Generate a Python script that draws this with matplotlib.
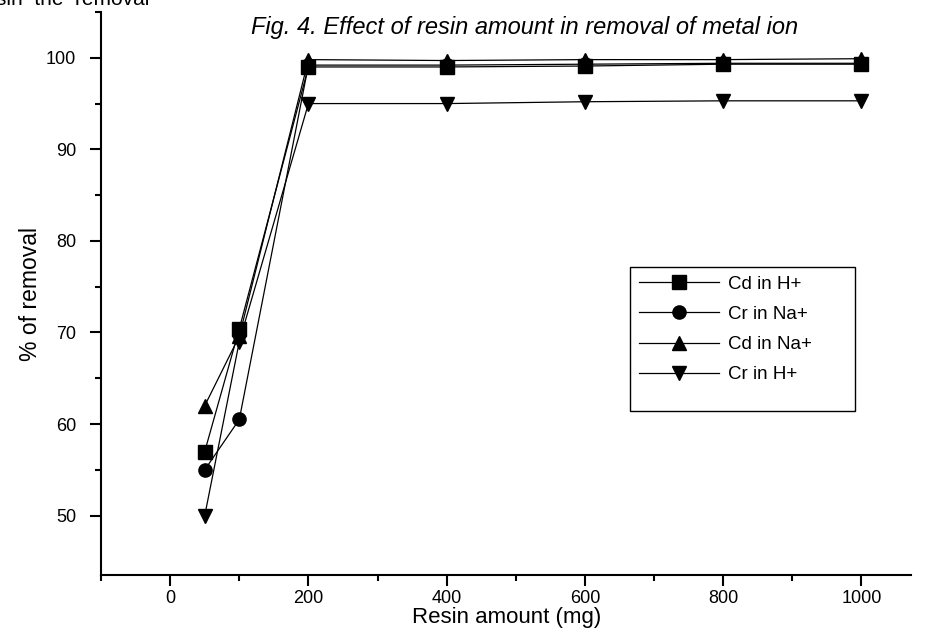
import numpy as np
import matplotlib.pyplot as plt
from matplotlib.patches import Rectangle

plt.rcParams['font.family'] = ['Liberation Sans', 'DejaVu Sans']

# DATA
resin = [50, 100, 200, 400, 600, 800, 1000]
cd_h = [57.0, 70.4, 99.0, 99.0, 99.1, 99.3, 99.3]
cr_na = [55.0, 60.5, 99.2, 99.2, 99.3, 99.4, 99.4]
cd_na = [62.0, 69.6, 99.8, 99.7, 99.8, 99.8, 99.9]
cr_h = [50.0, 69.0, 95.0, 95.0, 95.2, 95.3, 95.3]
labels = ['Cd in H+', 'Cr in Na+', 'Cd in Na+', 'Cr in H+']

fig = plt.figure(figsize=(9.27, 6.32), dpi=100)
ax = fig.add_axes([0.109, 0.090, 0.874, 0.891])

series = [(cd_h, 's'), (cr_na, 'o'), (cd_na, '^'), (cr_h, 'v')]
for (vals, mk), lab in zip(series, labels):
    ax.plot(resin, vals, color='black', lw=0.9, marker=mk, markersize=9.5,
            markerfacecolor='black', markeredgecolor='black', label=lab)

ax.set_xlim(-100, 1072)
ax.set_ylim(43.5, 105)
ax.set_xticks([0, 200, 400, 600, 800, 1000])
ax.set_xticks(np.arange(-100, 1001, 200), minor=True)
ax.set_yticks([50, 60, 70, 80, 90, 100])
ax.set_yticks([55, 65, 75, 85, 95, 105], minor=True)

for side in ['top', 'right']:
    ax.spines[side].set_visible(False)
for side in ['left', 'bottom']:
    ax.spines[side].set_linewidth(1.5)
ax.tick_params(which='major', direction='out', length=8, width=1.5, labelsize=13)
ax.tick_params(axis='y', which='major', pad=10)
ax.tick_params(axis='x', which='major', pad=3)
ax.tick_params(which='minor', direction='out', length=4.5, width=1.5)

ax.set_xlabel('Resin amount (mg)', fontsize=16, labelpad=0)
ax.set_ylabel('% of removal', fontsize=16.5, labelpad=3)

# legend: frame drawn separately, it has extra room at the right and bottom
ax.add_patch(Rectangle((0.653, 0.291), 0.278, 0.256, transform=ax.transAxes,
                       facecolor='white', edgecolor='black', lw=1.0, zorder=4))
leg = ax.legend(loc='upper left', bbox_to_anchor=(0.653, 0.547), fontsize=13.5,
                handlelength=4.3, handletextpad=0.48, borderpad=0.45,
                labelspacing=0.7, borderaxespad=0, frameon=False)
leg.set_zorder(5)

fig.text(0.566, 0.957, 'Fig. 4. Effect of resin amount in removal of metal ion',
         ha='center', va='center', fontsize=17, style='italic')
fig.text(-0.004, 0.992, 'sin  the  removal', ha='left', va='baseline', fontsize=15)

fig.savefig('out.png', dpi=100)
